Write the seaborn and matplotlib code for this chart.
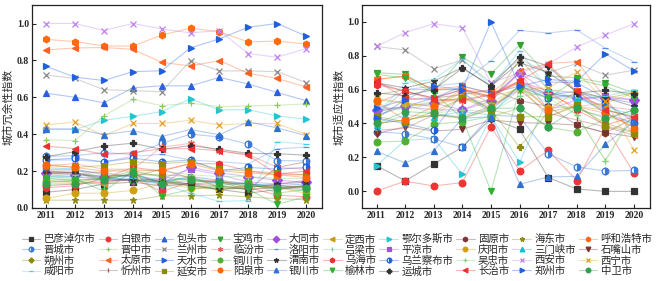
import numpy as np
import pandas as pd
import matplotlib
matplotlib.use("Agg")
import matplotlib.pyplot as plt
from matplotlib.colors import to_rgba
import seaborn as sns

sns.set_theme(style="white")
plt.rcParams['font.family'] = ['Noto Sans CJK SC', 'DejaVu Sans']
plt.rcParams['axes.unicode_minus'] = False

years = list(range(2011, 2021))

cities = ['巴彦淖尔市', '白银市', '包头市', '宝鸡市', '大同市', '定西市', '鄂尔多斯市', '固原市', '海东市', '呼和浩特市',
          '晋城市', '晋中市', '兰州市', '临汾市', '洛阳市', '吕梁市', '平凉市', '庆阳市', '三门峡市', '石嘴山市',
          '朔州市', '太原市', '天水市', '铜川市', '渭南市', '乌海市', '乌兰察布市', '吴忠市', '西安市', '西宁市',
          '咸阳市', '忻州市', '延安市', '阳泉市', '银川市', '榆林市', '运城市', '长治市', '郑州市', '中卫市']

# 城市冗余性指数 (左图)
redundancy = {
    '巴彦淖尔市': [0.085, 0.10, 0.13, 0.14, 0.12, 0.13, 0.10, 0.08, 0.10, 0.12],
    '白银市': [0.12, 0.13, 0.14, 0.16, 0.09, 0.14, 0.15, 0.11, 0.07, 0.06],
    '包头市': [0.622, 0.600, 0.570, 0.651, 0.662, 0.662, 0.708, 0.672, 0.626, 0.582],
    '宝鸡市': [0.17, 0.16, 0.09, 0.20, 0.17, 0.15, 0.14, 0.13, 0.10, 0.12],
    '大同市': [0.19, 0.18, 0.17, 0.15, 0.13, 0.22, 0.19, 0.17, 0.15, 0.14],
    '定西市': [0.14, 0.14, 0.13, 0.16, 0.15, 0.12, 0.11, 0.10, 0.12, 0.11],
    '鄂尔多斯市': [0.425, 0.425, 0.475, 0.497, 0.522, 0.592, 0.532, 0.532, 0.499, 0.481],
    '固原市': [0.19, 0.19, 0.15, 0.15, 0.15, 0.13, 0.14, 0.10, 0.22, 0.25],
    '海东市': [0.042, 0.042, 0.042, 0.042, 0.065, 0.065, 0.07, 0.06, 0.05, 0.045],
    '呼和浩特市': [0.914, 0.902, 0.878, 0.878, 0.937, 0.975, 0.955, 0.900, 0.905, 0.888],
    '晋城市': [0.280, 0.283, 0.300, 0.290, 0.350, 0.400, 0.385, 0.345, 0.257, 0.255],
    '晋中市': [0.370, 0.365, 0.500, 0.588, 0.555, 0.568, 0.549, 0.553, 0.557, 0.564],
    '兰州市': [0.721, 0.702, 0.641, 0.636, 0.630, 0.799, 0.743, 0.743, 0.739, 0.680],
    '临汾市': [0.23, 0.24, 0.21, 0.21, 0.33, 0.35, 0.31, 0.29, 0.22, 0.21],
    '洛阳市': [0.26, 0.26, 0.25, 0.28, 0.29, 0.26, 0.25, 0.24, 0.32, 0.33],
    '吕梁市': [0.16, 0.15, 0.12, 0.19, 0.17, 0.12, 0.10, 0.12, 0.11, 0.09],
    '平凉市': [0.18, 0.17, 0.15, 0.15, 0.16, 0.21, 0.18, 0.14, 0.13, 0.15],
    '庆阳市': [0.052, 0.080, 0.080, 0.095, 0.13, 0.11, 0.10, 0.12, 0.11, 0.08],
    '三门峡市': [0.17, 0.17, 0.16, 0.18, 0.15, 0.16, 0.13, 0.13, 0.12, 0.11],
    '石嘴山市': [0.20, 0.19, 0.17, 0.18, 0.14, 0.13, 0.12, 0.10, 0.11, 0.12],
    '朔州市': [0.15, 0.14, 0.16, 0.18, 0.18, 0.17, 0.11, 0.12, 0.11, 0.12],
    '太原市': [0.857, 0.867, 0.870, 0.860, 0.789, 0.770, 0.799, 0.730, 0.702, 0.656],
    '天水市': [0.21, 0.21, 0.18, 0.17, 0.14, 0.17, 0.15, 0.13, 0.12, 0.13],
    '铜川市': [0.14, 0.15, 0.16, 0.15, 0.14, 0.16, 0.12, 0.14, 0.08, 0.10],
    '渭南市': [0.19, 0.19, 0.16, 0.15, 0.14, 0.12, 0.10, 0.11, 0.13, 0.14],
    '乌海市': [0.11, 0.12, 0.16, 0.22, 0.20, 0.24, 0.24, 0.20, 0.18, 0.18],
    '乌兰察布市': [0.26, 0.27, 0.25, 0.27, 0.25, 0.26, 0.20, 0.22, 0.21, 0.22],
    '吴忠市': [0.18, 0.18, 0.20, 0.21, 0.20, 0.18, 0.17, 0.17, 0.16, 0.16],
    '西安市': [1.0, 1.0, 0.962, 1.0, 0.971, 0.949, 0.962, 0.837, 0.817, 0.864],
    '西宁市': [0.450, 0.466, 0.392, 0.458, 0.458, 0.475, 0.450, 0.458, 0.458, 0.398],
    '咸阳市': [0.22, 0.21, 0.16, 0.16, 0.13, 0.08, 0.035, 0.04, 0.36, 0.345],
    '忻州市': [0.20, 0.20, 0.19, 0.17, 0.21, 0.16, 0.14, 0.13, 0.11, 0.10],
    '延安市': [0.23, 0.22, 0.23, 0.25, 0.24, 0.25, 0.21, 0.20, 0.19, 0.18],
    '阳泉市': [0.235, 0.220, 0.200, 0.200, 0.205, 0.240, 0.200, 0.190, 0.180, 0.165],
    '银川市': [0.429, 0.429, 0.398, 0.418, 0.387, 0.425, 0.397, 0.467, 0.434, 0.392],
    '榆林市': [0.16, 0.15, 0.16, 0.20, 0.065, 0.10, 0.12, 0.10, 0.02, 0.06],
    '运城市': [0.278, 0.305, 0.336, 0.351, 0.318, 0.338, 0.318, 0.296, 0.294, 0.286],
    '长治市': [0.335, 0.322, 0.290, 0.300, 0.320, 0.322, 0.310, 0.285, 0.183, 0.200],
    '郑州市': [0.767, 0.709, 0.691, 0.739, 0.744, 0.868, 0.917, 0.980, 1.0, 0.932],
    '中卫市': [0.13, 0.13, 0.15, 0.19, 0.13, 0.15, 0.14, 0.12, 0.11, 0.11],
}

# 城市适应性指数 (右图)
adaptability = {
    '巴彦淖尔市': [0.150, 0.060, 0.160, 0.260, 0.43, 0.365, 0.080, 0.012, -0.002, -0.002],
    '白银市': [0.0, 0.058, 0.030, 0.050, 0.380, 0.120, 0.240, 0.062, 0.38, 0.105],
    '包头市': [0.45, 0.50, 0.55, 0.60, 0.55, 0.70, 0.645, 0.64, 0.55, 0.52],
    '宝鸡市': [0.700, 0.690, 0.590, 0.790, 0.693, 0.866, 0.680, 0.670, 0.640, 0.580],
    '大同市': [0.48, 0.50, 0.52, 0.48, 0.53, 0.70, 0.58, 0.55, 0.55, 0.54],
    '定西市': [0.40, 0.42, 0.45, 0.55, 0.50, 0.62, 0.44, 0.50, 0.48, 0.44],
    '鄂尔多斯市': [0.150, 0.30, 0.31, 0.100, 0.44, 0.170, 0.55, 0.55, 0.50, 0.45],
    '固原市': [0.64, 0.59, 0.55, 0.57, 0.60, 0.535, 0.50, 0.39, 0.345, 0.43],
    '海东市': [0.57, 0.60, 0.60, 0.60, 0.52, 0.78, 0.60, 0.58, 0.55, 0.58],
    '呼和浩特市': [0.66, 0.68, 0.60, 0.62, 0.58, 0.65, 0.57, 0.50, 0.46, 0.38],
    '晋城市': [0.350, 0.340, 0.308, 0.260, 0.45, 0.440, 0.220, 0.143, 0.118, 0.122],
    '晋中市': [0.47, 0.50, 0.53, 0.55, 0.52, 0.62, 0.55, 0.45, 0.18, 0.47],
    '兰州市': [0.855, 0.834, 0.723, 0.775, 0.640, 0.780, 0.700, 0.755, 0.685, 0.715],
    '临汾市': [0.52, 0.59, 0.54, 0.53, 0.57, 0.64, 0.57, 0.56, 0.50, 0.48],
    '洛阳市': [0.45, 0.60, 0.62, 0.64, 0.770, 0.950, 0.935, 0.953, 0.845, 0.765],
    '吕梁市': [0.50, 0.48, 0.52, 0.58, 0.46, 0.60, 0.52, 0.48, 0.44, 0.40],
    '平凉市': [0.47, 0.50, 0.48, 0.48, 0.55, 0.70, 0.48, 0.54, 0.56, 0.54],
    '庆阳市': [0.54, 0.52, 0.50, 0.56, 0.49, 0.62, 0.49, 0.50, 0.52, 0.58],
    '三门峡市': [0.39, 0.45, 0.44, 0.47, 0.45, 0.63, 0.58, 0.55, 0.48, 0.44],
    '石嘴山市': [0.34, 0.38, 0.355, 0.365, 0.42, 0.405, 0.40, 0.39, 0.345, 0.32],
    '朔州市': [0.40, 0.42, 0.45, 0.43, 0.48, 0.26, 0.47, 0.50, 0.40, 0.35],
    '太原市': [0.660, 0.680, 0.600, 0.600, 0.580, 0.710, 0.755, 0.765, 0.550, 0.330],
    '天水市': [0.49, 0.54, 0.55, 0.62, 0.58, 0.62, 0.57, 0.59, 0.52, 0.41],
    '铜川市': [0.290, 0.295, 0.395, 0.410, 0.440, 0.490, 0.377, 0.350, 0.425, 0.480],
    '渭南市': [0.64, 0.61, 0.65, 0.73, 0.62, 0.76, 0.70, 0.59, 0.55, 0.50],
    '乌海市': [0.63, 0.59, 0.55, 0.60, 0.56, 0.65, 0.59, 0.48, 0.39, 0.44],
    '乌兰察布市': [0.43, 0.40, 0.36, 0.58, 0.48, 0.62, 0.55, 0.57, 0.46, 0.40],
    '吴忠市': [0.44, 0.51, 0.46, 0.48, 0.47, 0.56, 0.58, 0.45, 0.18, 0.45],
    '西安市': [0.855, 0.937, 0.990, 0.966, 0.640, 0.700, 0.750, 0.853, 0.923, 0.990],
    '西宁市': [0.55, 0.52, 0.50, 0.58, 0.56, 0.60, 0.61, 0.705, 0.53, 0.245],
    '咸阳市': [0.45, 0.64, 0.66, 0.78, 0.62, 0.83, 0.60, 0.55, 0.56, 0.60],
    '忻州市': [0.36, 0.37, 0.45, 0.44, 0.50, 0.60, 0.46, 0.42, 0.38, 0.33],
    '延安市': [0.44, 0.41, 0.47, 0.55, 0.48, 0.44, 0.44, 0.51, 0.385, 0.345],
    '阳泉市': [0.53, 0.42, 0.50, 0.60, 0.56, 0.64, 0.48, 0.59, 0.46, 0.375],
    '银川市': [0.235, 0.166, 0.237, 0.43, 0.44, 0.040, 0.083, 0.087, 0.277, 0.41],
    '榆林市': [0.69, 0.67, 0.58, 0.43, 0.0, 0.60, 0.55, 0.66, 0.62, 0.55],
    '运城市': [0.580, 0.565, 0.600, 0.727, 0.620, 0.795, 0.740, 0.580, 0.595, 0.575],
    '长治市': [0.65, 0.55, 0.54, 0.54, 0.57, 0.65, 0.75, 0.59, 0.48, 0.435],
    '郑州市': [0.43, 0.54, 0.62, 0.60, 1.0, 0.62, 0.66, 0.648, 0.812, 0.71],
    '中卫市': [0.40, 0.47, 0.46, 0.43, 0.49, 0.49, 0.38, 0.49, 0.43, 0.48],
}

colors = ['#333333', '#F03434', '#2A5FE0', '#30A030', '#A24BE0', '#C89B10', '#22C4D4', '#7A3838', '#8C8C10', '#FF6A10',
          '#3A78D8', '#8CCB50', '#888888', '#F06060', '#5A8CE6', '#70C890', '#A050E0', '#D0A010', '#10C0D0', '#7B3030',
          '#8B8B00', '#FF6020', '#2060E0', '#50B030', '#333333', '#F03030', '#2060E0', '#88D088', '#C080F0', '#E0A020',
          '#40D0E0', '#A05050', '#8B8B00', '#FF6600', '#3070D0', '#30B030', '#333333', '#F03030', '#1F5FE0', '#30A050']
markers = ['s', 'o', '^', 'v', 'D', '<', '>', 'h', '*', 'h',
           'o', '+', 'x', (6, 2, 0), '_', '|', 's', 'o', '^', 'v',
           'P', '<', '>', 'o', '*', 'h', 'o', '+', 'x', 'x',
           '_', '|', 's', 'o', '^', 'v', 'P', '<', '>', 'o']
half_filled = {'晋城市', '乌兰察布市'}

df_r = pd.DataFrame([(c, y, v) for c in cities for y, v in zip(years, redundancy[c])],
                    columns=['city', 'year', 'value'])
df_a = pd.DataFrame([(c, y, v) for c in cities for y, v in zip(years, adaptability[c])],
                    columns=['city', 'year', 'value'])

fig = plt.figure(figsize=(6.61, 2.81), dpi=100)
ax1 = fig.add_axes([0.048, 0.26, 0.439, 0.722])
ax2 = fig.add_axes([0.548, 0.26, 0.435, 0.722])


def draw(ax, df):
    for city, col, mk in zip(cities, colors, markers):
        sub = df[df['city'] == city]
        sns.lineplot(data=sub, x='year', y='value', ax=ax, errorbar=None, legend=False,
                     marker=mk, markersize=4.8, linewidth=0.8)
    for line, city, col in zip(ax.lines, cities, colors):
        line.set_color(to_rgba(col, 0.35))
        line.set_markerfacecolor(col)
        line.set_markeredgecolor(col)
        line.set_markeredgewidth(0.9)
        if city in half_filled:
            line.set_fillstyle('right')
            line.set_markerfacecoloralt('white')


draw(ax1, df_r)
draw(ax2, df_a)

tick_font = dict(family='Liberation Serif', weight='bold', size=7)
for ax, lab, lo in [(ax1, '城市冗余性指数', 0.0), (ax2, '城市适应性指数', -0.1)]:
    ax.set_xlim(2010.5, 2020.55)
    ax.set_ylim(lo, 1.1)
    ax.set_xticks(years)
    ax.set_yticks([0.0, 0.2, 0.4, 0.6, 0.8, 1.0])
    ax.set_xticklabels([str(y) for y in years], fontdict=tick_font)
    ax.set_yticklabels([f'{t:.1f}' for t in [0.0, 0.2, 0.4, 0.6, 0.8, 1.0]], fontdict=tick_font)
    ax.set_xlabel('')
    ax.set_ylabel(lab, fontsize=7.8, labelpad=2)
    ax.tick_params(direction='in', length=3, width=0.8, pad=2, left=True, bottom=True)
    for s in ax.spines.values():
        s.set_color('#222222')
        s.set_linewidth(0.9)

# legend in row-major order (10 columns x 4 rows)
handles = ax1.lines[:len(cities)]
order = [r * 10 + c for c in range(10) for r in range(4)]
fig.legend([handles[i] for i in order], [cities[i] for i in order],
           loc='lower center', bbox_to_anchor=(0.51, -0.01), ncol=10, frameon=False,
           fontsize=7.5, handlelength=1.8, handletextpad=0.3, columnspacing=0.3,
           labelspacing=0.05, borderpad=0.2, markerscale=0.7)

fig.savefig('out.png', dpi=100)
